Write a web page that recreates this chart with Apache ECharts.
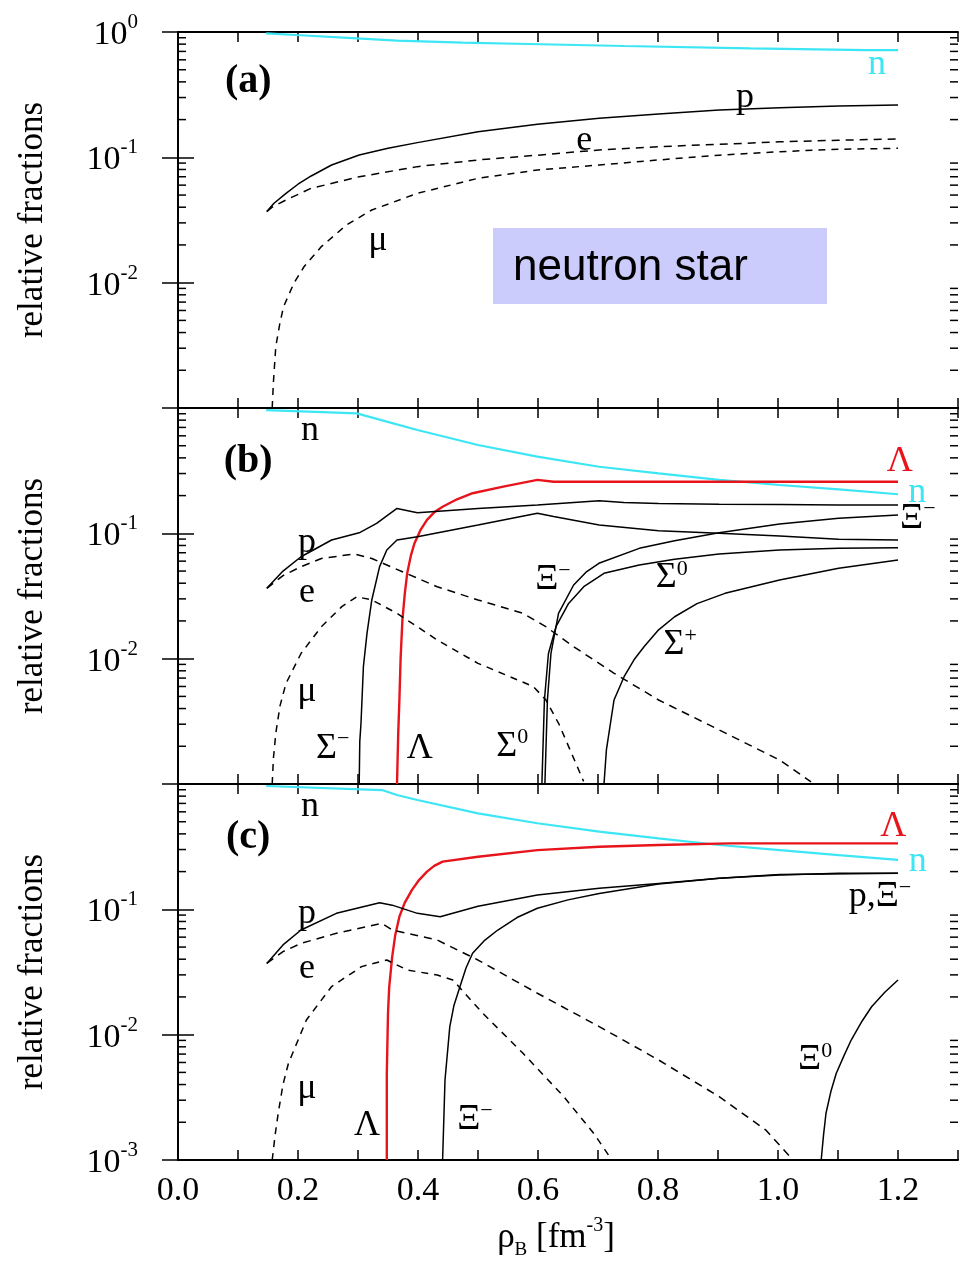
<!DOCTYPE html>
<html><head><meta charset="utf-8">
<script src="https://cdn.jsdelivr.net/npm/echarts@6/dist/echarts.min.js"></script>
<style>html,body{margin:0;padding:0;background:#fff}#c{width:963px;height:1261px}</style>
</head><body><div id="c"></div><script>
// ---------------- data (x = rho_B [fm^-3], y = relative fraction) ----------------
// panel (a): nucleons + leptons
const A_n  = [[0.147,0.976],[0.197,0.946],[0.298,0.890],[0.365,0.853],[0.474,0.822],[0.584,0.802],[0.744,0.773],[0.954,0.741],[1.147,0.718],[1.2,0.718]];
const A_p  = [[0.148,0.0369],[0.16,0.043],[0.18,0.0516],[0.20,0.061],[0.222,0.071],[0.256,0.0869],[0.302,0.1044],[0.35,0.118],[0.399,0.131],[0.5,0.160],[0.599,0.184],[0.702,0.205],[0.801,0.222],[0.902,0.239],[1.003,0.249],[1.101,0.257],[1.2,0.262]];
const A_e  = [[0.148,0.0369],[0.157,0.040],[0.18,0.0457],[0.222,0.0566],[0.302,0.070],[0.399,0.0843],[0.5,0.0953],[0.599,0.104],[0.702,0.1145],[0.801,0.1217],[0.902,0.127],[1.003,0.133],[1.101,0.137],[1.2,0.140]];
const A_mu = [[0.157,0.001],[0.159,0.0016],[0.163,0.0031],[0.170,0.0048],[0.176,0.00644],[0.193,0.00988],[0.210,0.0134],[0.239,0.0194],[0.281,0.0289],[0.323,0.038],[0.399,0.0516],[0.5,0.068],[0.599,0.0792],[0.702,0.0869],[0.801,0.0953],[0.902,0.104],[1.003,0.111],[1.101,0.116],[1.2,0.118]];
// panel (b): with hyperons
const B_n   = [[0.147,0.963],[0.298,0.906],[0.348,0.778],[0.399,0.668],[0.5,0.507],[0.599,0.409],[0.702,0.340],[0.801,0.301],[0.902,0.267],[1.003,0.243],[1.101,0.224],[1.2,0.205]];
const B_lam = [[0.365,0.001],[0.367,0.0025],[0.369,0.0047],[0.371,0.010],[0.374,0.0203],[0.378,0.033],[0.382,0.048],[0.388,0.066],[0.394,0.083],[0.404,0.106],[0.415,0.128],[0.427,0.147],[0.441,0.163],[0.465,0.187],[0.491,0.209],[0.542,0.236],[0.599,0.267],[0.626,0.258],[1.2,0.258]];
const B_p   = [[0.148,0.0364],[0.175,0.050],[0.205,0.065],[0.256,0.0885],[0.302,0.101],[0.331,0.120],[0.365,0.158],[0.399,0.146],[0.5,0.158],[0.599,0.168],[0.702,0.182],[0.743,0.176],[0.801,0.173],[0.902,0.171],[1.003,0.170],[1.101,0.168],[1.2,0.168]];
const B_sm  = [[0.302,0.001],[0.303,0.0022],[0.305,0.00305],[0.309,0.00863],[0.315,0.0159],[0.323,0.0294],[0.336,0.0542],[0.348,0.0736],[0.365,0.0885],[0.399,0.094],[0.5,0.1165],[0.599,0.1445],[0.626,0.136],[0.702,0.1165],[0.801,0.105],[0.902,0.1],[1.003,0.0953],[1.101,0.0895],[1.2,0.0885]];
const B_xim = [[0.6115,0.001],[0.6157,0.00468],[0.6216,0.011],[0.6342,0.023],[0.6594,0.0387],[0.68,0.049],[0.7015,0.0577],[0.7688,0.0759],[0.8277,0.0873],[0.9017,0.101],[1.0026,0.1186],[1.1011,0.1318],[1.2,0.140]];
const B_s0  = [[0.6065,0.001],[0.6107,0.00468],[0.6174,0.011],[0.630,0.018],[0.651,0.0276],[0.6763,0.0375],[0.710,0.048],[0.7688,0.0558],[0.8277,0.062],[0.9017,0.0684],[1.0026,0.0736],[1.1011,0.0759],[1.2,0.0769]];
const B_sp  = [[0.710,0.001],[0.714,0.00187],[0.7267,0.00468],[0.7435,0.00718],[0.76,0.0098],[0.777,0.0125],[0.80,0.0168],[0.8277,0.0216],[0.865,0.0275],[0.9117,0.0332],[1.0026,0.0425],[1.1011,0.0526],[1.2,0.0612]];
const B_e   = [[0.148,0.0364],[0.175,0.046],[0.205,0.0542],[0.239,0.063],[0.294,0.0684],[0.323,0.063],[0.374,0.0494],[0.432,0.0375],[0.5,0.0294],[0.575,0.023],[0.613,0.018],[0.659,0.0125],[0.727,0.00764],[0.801,0.00468],[0.902,0.0027],[1.003,0.00155],[1.055,0.00104]];
const B_mu  = [[0.157,0.001],[0.159,0.0016],[0.163,0.00254],[0.170,0.0042],[0.180,0.00635],[0.205,0.011],[0.239,0.018],[0.273,0.026],[0.298,0.0312],[0.323,0.0294],[0.365,0.023],[0.432,0.0141],[0.5,0.00918],[0.592,0.0060],[0.613,0.0047],[0.635,0.0030],[0.655,0.0018],[0.676,0.00105]];
// panel (c)
const C_n   = [[0.147,0.964],[0.34,0.895],[0.365,0.817],[0.399,0.745],[0.5,0.583],[0.599,0.486],[0.702,0.417],[0.801,0.368],[0.902,0.326],[1.003,0.297],[1.101,0.271],[1.2,0.248]];
const C_lam = [[0.348,0.001],[0.348,0.0049],[0.350,0.0148],[0.352,0.024],[0.357,0.042],[0.362,0.062],[0.369,0.0874],[0.378,0.113],[0.39,0.143],[0.402,0.172],[0.415,0.2],[0.427,0.222],[0.441,0.24],[0.5,0.263],[0.599,0.297],[0.702,0.316],[0.801,0.326],[0.92,0.336],[1.2,0.336]];
const C_p   = [[0.148,0.037],[0.175,0.052],[0.205,0.0684],[0.264,0.0929],[0.336,0.113],[0.357,0.108],[0.399,0.0929],[0.437,0.0874],[0.5,0.106],[0.599,0.130],[0.702,0.147],[0.801,0.161],[0.902,0.177],[1.003,0.188],[1.101,0.194],[1.2,0.194]];
const C_xim = [[0.441,0.001],[0.445,0.00435],[0.453,0.0116],[0.46,0.0172],[0.47,0.0242],[0.48,0.034],[0.491,0.0446],[0.51,0.056],[0.533,0.0684],[0.565,0.086],[0.599,0.102],[0.65,0.119],[0.702,0.134],[0.801,0.159],[0.902,0.177],[1.003,0.19],[1.2,0.194]];
const C_xi0 = [[1.072,0.001],[1.076,0.0016],[1.08,0.00236],[1.088,0.0035],[1.097,0.0049],[1.11,0.0068],[1.122,0.00906],[1.14,0.0128],[1.156,0.0167],[1.178,0.0218],[1.2,0.0273]];
const C_e   = [[0.148,0.037],[0.175,0.046],[0.205,0.0535],[0.264,0.0644],[0.34,0.0773],[0.357,0.0684],[0.432,0.0569],[0.5,0.0394],[0.599,0.0214],[0.702,0.0116],[0.801,0.00628],[0.902,0.0032],[0.98,0.00173],[1.025,0.001]];
const C_mu  = [[0.157,0.001],[0.162,0.0016],[0.167,0.00236],[0.175,0.0040],[0.184,0.0059],[0.214,0.0131],[0.256,0.0242],[0.306,0.0349],[0.348,0.0394],[0.382,0.0328],[0.432,0.0299],[0.458,0.0273],[0.508,0.0148],[0.575,0.0071],[0.643,0.0032],[0.693,0.00163],[0.723,0.001]];
// minor (log) tick values
const MINOR_TICKS = [0.002,0.003,0.004,0.005,0.006,0.007,0.008,0.009,0.02,0.03,0.04,0.05,0.06,0.07,0.08,0.09,0.2,0.3,0.4,0.5,0.6,0.7,0.8,0.9];
// which decade labels each panel shows (exponents)
const Y_LABELS = [[0,-1,-2],[-1,-2],[-1,-2,-3]];
// curve annotations: [text, x, y, style]
const NOTES = [
  [['{t|(a)}',0.117,0.40,'k'],['n',1.165,0.545,'c'],['p',0.945,0.30,'k'],['e',0.677,0.137,'k'],['μ',0.333,0.0215,'k']],
  [['{t|(b)}',0.117,0.371,'k'],['n',0.22,0.66,'k'],['p',0.215,0.085,'k'],['e',0.215,0.0334,'k'],['μ',0.215,0.0055,'k'],
   ['Σ{s|−}',0.258,0.00193,'k'],['Λ',0.403,0.00193,'k'],['Σ{s|0}',0.557,0.002,'k'],['Ξ{s|−}',0.625,0.0424,'k'],
   ['Σ{s|0}',0.823,0.044,'k'],['Σ{s|+}',0.837,0.01285,'k'],['Λ',1.203,0.371,'r'],['n',1.232,0.213,'c'],['Ξ{s|−}',1.233,0.132,'k']],
  [['{t|(c)}',0.117,0.371,'k'],['n',0.22,0.66,'k'],['p',0.215,0.092,'k'],['e',0.215,0.034,'k'],['μ',0.215,0.0037,'k'],
   ['Λ',0.315,0.0019,'k'],['Ξ{s|−}',0.495,0.00209,'k'],['Ξ{s|0}',1.062,0.0063,'k'],['Λ',1.192,0.454,'r'],['n',1.233,0.239,'c'],['p,Ξ{s|−}',1.17,0.126,'k']]
];
// ---------------- rendering ----------------
const SERIF = "'Liberation Serif','Times New Roman',serif";
const CYAN = '#3ce6f4', RED = '#e8141c';
const COLORS = {k:'#000', c:CYAN, r:RED};
const GRID_TOPS = [32, 408, 784];
const grids = GRID_TOPS.map(t => ({left:178, width:780, top:t, height:376}));
const xAxis = [], yAxis = [];
GRID_TOPS.forEach((t, g) => {
  const last = g === 2;
  const base = {type:'value', gridIndex:g, min:0, max:1.3, interval:0.1,
    axisLine:{show:true, lineStyle:{color:'#000', width:2}},
    axisTick:{show:true, inside:true, length:10, lineStyle:{color:'#000', width:1.5}},
    splitLine:{show:false}};
  xAxis.push(Object.assign({}, base, {position:'bottom',
    axisLabel:{show:last, margin:14, fontFamily:SERIF, fontSize:34, color:'#000',
      formatter: v => { const k = Math.round(v*10); return (k%2===0 && k<=12) ? (k/10).toFixed(1) : ''; }}}));
  xAxis.push(Object.assign({}, base, {position:'top', axisLabel:{show:false}}));
  const ybase = {type:'log', logBase:10, gridIndex:g, min:0.001, max:1, splitNumber:3,
    axisLine:{show:true, lineStyle:{color:'#000', width:2}},
    axisTick:{show:true, inside:true, length:16, lineStyle:{color:'#000', width:1.5}},
    splitLine:{show:false}};
  yAxis.push(Object.assign({}, ybase, {position:'left',
    name:'relative fractions', nameLocation:'middle', nameGap:128,
    nameTextStyle:{fontFamily:SERIF, fontSize:35, color:'#000'},
    axisLabel:{show:true, margin:40, showMinLabel:true, showMaxLabel:true,
      formatter: v => { const e = Math.round(Math.log10(v)); return Y_LABELS[g].includes(e) ? '{b|10}{s|' + e + '}' : ''; },
      rich:{b:{fontFamily:SERIF, fontSize:34, color:'#000', lineHeight:40, verticalAlign:'bottom'},
            s:{fontFamily:SERIF, fontSize:21, color:'#000', lineHeight:40, verticalAlign:'top'}}}}));
  yAxis.push(Object.assign({}, ybase, {position:'right', axisLabel:{show:false}}));
});
function line(g, data, color, w, dash) {
  return {type:'line', xAxisIndex:g*2, yAxisIndex:g*2, data:data, symbol:'none', showSymbol:false,
    lineStyle:{color:color, width:w, type: dash || 'solid', opacity:1}, silent:true, z:3, clip:true};
}
const D1 = [8,6], D2 = [7,6];
const series = [
  line(0, A_n, CYAN, 2.2), line(0, A_p, '#000', 1.5), line(0, A_e, '#000', 1.5, D1), line(0, A_mu, '#000', 1.5, D2),
  line(1, B_n, CYAN, 2.2), line(1, B_lam, RED, 2.4), line(1, B_p, '#000', 1.5), line(1, B_sm, '#000', 1.5),
  line(1, B_xim, '#000', 1.5), line(1, B_s0, '#000', 1.5), line(1, B_sp, '#000', 1.5),
  line(1, B_e, '#000', 1.5, D1), line(1, B_mu, '#000', 1.5, D2),
  line(2, C_n, CYAN, 2.2), line(2, C_lam, RED, 2.4), line(2, C_p, '#000', 1.5), line(2, C_xim, '#000', 1.5),
  line(2, C_xi0, '#000', 1.5), line(2, C_e, '#000', 1.5, D1), line(2, C_mu, '#000', 1.5, D2)
];
GRID_TOPS.forEach((t, g) => {
  series.push({type:'custom', xAxisIndex:g*2, yAxisIndex:g*2, silent:true, z:5, clip:false,
    data: MINOR_TICKS.map(v => [0.5, v]),
    renderItem: (params, api) => {
      const cs = params.coordSys;
      const y = api.coord([0.5, api.value(1)])[1];
      const st = {stroke:'#000', lineWidth:1.5};
      return {type:'group', children:[
        {type:'line', shape:{x1:cs.x, y1:y, x2:cs.x+8, y2:y}, style:st},
        {type:'line', shape:{x1:cs.x+cs.width, y1:y, x2:cs.x+cs.width-8, y2:y}, style:st}]};
    }});
  series.push({type:'scatter', xAxisIndex:g*2, yAxisIndex:g*2, symbolSize:0, silent:true, z:10,
    itemStyle:{opacity:1},
    data: NOTES[g].map(n => ({value:[n[1], n[2]],
      label:{show:true, formatter:n[0], color:COLORS[n[3]], opacity:1,
        rich:{s:{fontFamily:SERIF, fontSize:22, color:COLORS[n[3]], verticalAlign:'top', lineHeight:40},
              t:{fontFamily:SERIF, fontSize:40, fontWeight:'bold', color:COLORS[n[3]]}}}})),
    label:{show:true, position:[0,0], align:'center', verticalAlign:'middle', opacity:1,
      fontFamily:SERIF, fontSize:36, lineHeight:40}});
});
const chart = echarts.init(document.getElementById('c'), null, {renderer:'canvas'});
chart.setOption({
  animation:false, backgroundColor:'#fff',
  grid:grids, xAxis:xAxis, yAxis:yAxis, series:series,
  graphic:[
    {type:'rect', shape:{x:493, y:228, width:334, height:76}, style:{fill:'#ccccfc'}, z:1},
    {type:'text', x:513, y:268, z:2, style:{text:'neutron star', fontFamily:"'Liberation Sans',Arial,sans-serif",
      fontSize:44, fill:'#000', align:'left', verticalAlign:'middle'}},
    {type:'text', x:556, y:1238, z:2, style:{text:'{a|ρ}{b|B}{a| [fm}{c|-3}{a|]}', align:'center', verticalAlign:'middle',
      rich:{a:{fontFamily:SERIF, fontSize:35, fill:'#000', lineHeight:44},
            b:{fontFamily:SERIF, fontSize:19, fill:'#000', lineHeight:44, verticalAlign:'bottom'},
            c:{fontFamily:SERIF, fontSize:20, fill:'#000', lineHeight:44, verticalAlign:'top'}}}}
  ]
});
</script></body></html>
